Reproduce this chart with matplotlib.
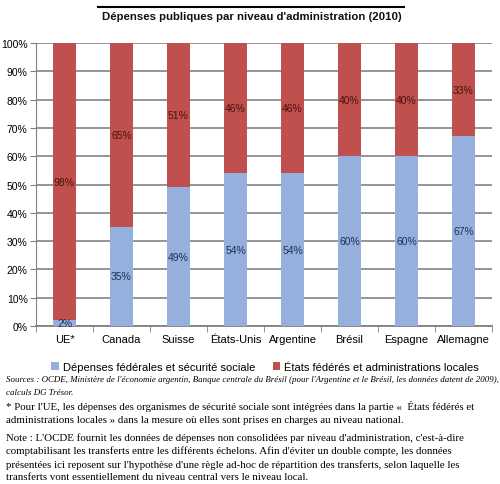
import numpy as np
import matplotlib.pyplot as plt
from matplotlib.lines import Line2D

pays = ["UE*", "Canada", "Suisse", "États-Unis", "Argentine", "Brésil", "Espagne", "Allemagne"]
federal = [2, 35, 49, 54, 54, 60, 60, 67]
local = [98, 65, 51, 46, 46, 40, 40, 33]

bleu = "#95B0DC"
rouge = "#C0504D"

plt.rcParams['font.family'] = ['Liberation Sans', 'DejaVu Sans']

fig = plt.figure(figsize=(5, 4.85), dpi=100)
ax = fig.add_axes([0.072, 0.326, 0.912, 0.583])

x = np.arange(len(pays))
w = 0.39
ax.bar(x, federal, w, color=bleu, label="Dépenses fédérales et sécurité sociale", zorder=3)
ax.bar(x, local, w, bottom=federal, color=rouge, label="États fédérés et administrations locales", zorder=3)

for i in range(len(pays)):
    ax.text(x[i], federal[i] / 2, f"{federal[i]}%", ha="center", va="center",
            fontsize=7.5, color="#1F2F5A", zorder=4)
    ax.text(x[i], federal[i] + local[i] / 2, f"{local[i]}%", ha="center", va="center",
            fontsize=7.5, color="#4A1010", zorder=4)

ax.set_xlim(-0.5, len(pays) - 0.5)
ax.set_ylim(0, 100)
ax.set_yticks(np.arange(0, 101, 10))
ax.set_yticklabels([f"{v}%" for v in range(0, 101, 10)], fontsize=7.5)
ax.set_xticks(x)
ax.set_xticklabels(pays, fontsize=8)
ax.set_xticks(np.arange(-0.5, len(pays), 1), minor=True)
ax.tick_params(axis="x", which="major", length=0, pad=6)
ax.tick_params(axis="x", which="minor", length=4, color="#808080")
ax.tick_params(axis="y", length=4, color="#808080", pad=2)
ax.yaxis.grid(True, color="#8C8C8C", linewidth=1.3, zorder=0)
for s in ["top", "right"]:
    ax.spines[s].set_visible(False)
ax.spines["left"].set_color("#808080")
ax.spines["bottom"].set_color("#808080")
ax.spines["bottom"].set_linewidth(1.3)

fig.legend(loc="center", bbox_to_anchor=(0.53, 1 - 368 / 485), ncol=2, frameon=False,
           fontsize=8, handlelength=0.7, handleheight=0.7, handletextpad=0.3,
           columnspacing=1.6)

# titre
fig.text(0.503, 1 - 17 / 485, "Dépenses publiques par niveau d'administration (2010)",
         ha="center", va="center", fontsize=8.2, fontweight="bold", color="#111111")
fig.add_artist(Line2D([98 / 500, 404 / 500], [1 - 8 / 485, 1 - 8 / 485], color="black", linewidth=1.5))

serif = ["Liberation Serif", "DejaVu Serif"]
notes = [
    (380, "Sources : OCDE, Ministère de l'économie argentin, Banque centrale du Brésil (pour l'Argentine et le Brésil, les données datent de 2009),", "italic"),
    (393, "calculs DG Trésor.", "italic"),
    (407, "* Pour l'UE, les dépenses des organismes de sécurité sociale sont intégrées dans la partie «  États fédérés et", "normal"),
    (421, "administrations locales » dans la mesure où elles sont prises en charges au niveau national.", "normal"),
    (438, "Note : L'OCDE fournit les données de dépenses non consolidées par niveau d'administration, c'est-à-dire", "normal"),
    (451, "comptabilisant les transferts entre les différents échelons. Afin d'éviter un double compte, les données", "normal"),
    (465, "présentées ici reposent sur l'hypothèse d'une règle ad-hoc de répartition des transferts, selon laquelle les", "normal"),
    (478, "transferts vont essentiellement du niveau central vers le niveau local.", "normal"),
]
for y, t, st in notes:
    fs = 6.38 if st == "italic" else 7.85
    fig.text(6 / 500, 1 - y / 485, t, ha="left", va="center", fontsize=fs, style=st, family=serif)

fig.savefig("out.png", dpi=100)
